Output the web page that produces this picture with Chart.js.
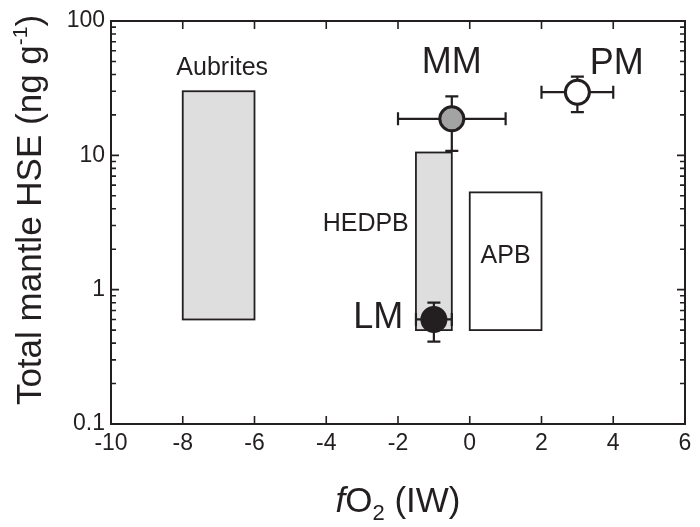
<!DOCTYPE html>
<html><head><meta charset="utf-8">
<script src="https://cdn.jsdelivr.net/npm/chart.js@4.4.0/dist/chart.umd.min.js"></script>
<style>html,body{margin:0;padding:0;background:#fff}#wrap{width:700px;height:527px;position:relative}</style>
</head><body><div id="wrap"><canvas id="c" width="700" height="527"></canvas></div>
<script>
// ---- data ----
const xTicks = [-10, -8, -6, -4, -2, 0, 2, 4, 6];
const yTicks = [0.1, 1, 10, 100];
const yMinorTicks = [0.2,0.3,0.4,0.5,0.6,0.7,0.8,0.9,2,3,4,5,6,7,8,9,20,30,40,50,60,70,80,90];

const pointNames = ['MM', 'PM', 'LM'];
const pointX = [-0.5, 3, -1];
const pointY = [18.7, 29.5, 0.6];
const pointXLo = [-2, 2, -1.5];
const pointXHi = [1, 4, -0.5];
const pointYLo = [10.8, 21, 0.41];
const pointYHi = [27.5, 38.5, 0.8];
const pointFill = ['#a3a3a3', '#ffffff', '#231f20'];

const boxNames = ['Aubrites', 'HEDPB', 'APB'];
const boxXMin = [-8, -1.5, 0];
const boxXMax = [-6, -0.5, 2];
const boxYMin = [0.6, 0.5, 0.5];
const boxYMax = [30, 10.5, 5.3];
const boxFill = ['#dedede', '#dedede', '#ffffff'];

const labelText = ['Aubrites', 'HEDPB', 'APB', 'MM', 'PM', 'LM'];
const labelX = [-6.9, -2.9, 1.0, -0.5, 4.1, -2.55];
const labelY = [44.8, 3.08, 1.78, 48.8, 47.5, 0.61];
const labelSize = [25, 25, 25, 36, 36, 36];

const FONT = '"Liberation Sans", Arial, Helvetica, sans-serif';
const INK = '#231f20';

const decorPlugin = {
  id: 'decor',
  beforeDatasetsDraw(chart) {
    const {ctx, scales: {x, y}} = chart;
    ctx.save();
    for (let i = 0; i < boxNames.length; i++) {
      const x0 = x.getPixelForValue(boxXMin[i]), x1 = x.getPixelForValue(boxXMax[i]);
      const y0 = y.getPixelForValue(boxYMax[i]), y1 = y.getPixelForValue(boxYMin[i]);
      ctx.fillStyle = boxFill[i];
      ctx.fillRect(x0, y0, x1 - x0, y1 - y0);
      ctx.strokeStyle = INK; ctx.lineWidth = 1.8;
      ctx.strokeRect(x0, y0, x1 - x0, y1 - y0);
    }
    ctx.strokeStyle = INK; ctx.lineWidth = 2.2;
    const cap = 6.5;
    for (let i = 0; i < pointNames.length; i++) {
      const px = x.getPixelForValue(pointX[i]), py = y.getPixelForValue(pointY[i]);
      const xl = x.getPixelForValue(pointXLo[i]), xh = x.getPixelForValue(pointXHi[i]);
      const yl = y.getPixelForValue(pointYLo[i]), yh = y.getPixelForValue(pointYHi[i]);
      ctx.beginPath();
      ctx.moveTo(xl, py); ctx.lineTo(xh, py);
      ctx.moveTo(xl, py - cap); ctx.lineTo(xl, py + cap);
      ctx.moveTo(xh, py - cap); ctx.lineTo(xh, py + cap);
      ctx.moveTo(px, yl); ctx.lineTo(px, yh);
      ctx.moveTo(px - cap, yl); ctx.lineTo(px + cap, yl);
      ctx.moveTo(px - cap, yh); ctx.lineTo(px + cap, yh);
      ctx.stroke();
    }
    ctx.restore();
  },
  afterDatasetsDraw(chart) {
    const {ctx, chartArea: a, scales: {x, y}} = chart;
    ctx.save();
    ctx.strokeStyle = INK; ctx.lineWidth = 2;
    ctx.strokeRect(a.left, a.top, a.right - a.left, a.bottom - a.top);
    ctx.lineWidth = 1.6;
    ctx.beginPath();
    xTicks.forEach(v => {
      const px = x.getPixelForValue(v);
      ctx.moveTo(px, a.bottom); ctx.lineTo(px, a.bottom - 8);
      ctx.moveTo(px, a.top); ctx.lineTo(px, a.top + 8);
    });
    yTicks.forEach(v => {
      const py = y.getPixelForValue(v);
      ctx.moveTo(a.left, py); ctx.lineTo(a.left + 8, py);
      ctx.moveTo(a.right, py); ctx.lineTo(a.right - 8, py);
    });
    yMinorTicks.forEach(v => {
      const py = y.getPixelForValue(v);
      ctx.moveTo(a.left, py); ctx.lineTo(a.left + 5, py);
      ctx.moveTo(a.right, py); ctx.lineTo(a.right - 5, py);
    });
    ctx.stroke();
    ctx.fillStyle = INK; ctx.textAlign = 'center'; ctx.textBaseline = 'middle';
    for (let i = 0; i < labelText.length; i++) {
      ctx.font = labelSize[i] + 'px ' + FONT;
      ctx.fillText(labelText[i], x.getPixelForValue(labelX[i]), y.getPixelForValue(labelY[i]));
    }
    const tSize = 35;
    const parts = [
      {t: 'f', f: 'italic ' + tSize + 'px ' + FONT, dy: 0},
      {t: 'O', f: tSize + 'px ' + FONT, dy: 0},
      {t: '2', f: Math.round(tSize * 0.62) + 'px ' + FONT, dy: 8},
      {t: ' (IW)', f: tSize + 'px ' + FONT, dy: 0}
    ];
    ctx.textAlign = 'left'; ctx.textBaseline = 'alphabetic';
    let w = 0;
    parts.forEach(p => { ctx.font = p.f; w += ctx.measureText(p.t).width; });
    let cx = (a.left + a.right) / 2 - w / 2;
    const base = 512;
    parts.forEach(p => { ctx.font = p.f; ctx.fillText(p.t, cx, base + p.dy); cx += ctx.measureText(p.t).width; });
    const yparts = [
      {t: 'Total mantle HSE (ng g', f: tSize + 'px ' + FONT, dy: 0},
      {t: '-1', f: Math.round(tSize * 0.6) + 'px ' + FONT, dy: -14},
      {t: ')', f: tSize + 'px ' + FONT, dy: 0}
    ];
    ctx.save();
    ctx.translate(41, 210);
    ctx.rotate(-Math.PI / 2);
    w = 0;
    yparts.forEach(p => { ctx.font = p.f; w += ctx.measureText(p.t).width; });
    cx = -w / 2;
    yparts.forEach(p => { ctx.font = p.f; ctx.fillText(p.t, cx, p.dy); cx += ctx.measureText(p.t).width; });
    ctx.restore();
    ctx.restore();
  }
};

new Chart(document.getElementById('c'), {
  type: 'scatter',
  data: {
    datasets: [{
      label: 'points',
      data: pointX.map((v, i) => ({x: v, y: pointY[i]})),
      pointRadius: 12,
      pointHoverRadius: 12,
      pointBackgroundColor: pointFill,
      pointBorderColor: INK,
      pointBorderWidth: 3,
      showLine: false
    }]
  },
  plugins: [decorPlugin],
  options: {
    responsive: false,
    animation: false,
    events: [],
    layout: {padding: {top: 21, right: 11, left: 0, bottom: 0}},
    plugins: {legend: {display: false}, tooltip: {enabled: false}},
    scales: {
      x: {
        type: 'linear', min: -10, max: 6,
        afterBuildTicks: s => { s.ticks = xTicks.map(v => ({value: v})); },
        afterFit: s => { s.height = 103; },
        grid: {display: false, drawTicks: false}, border: {display: false},
        ticks: {font: {family: FONT, size: 23}, color: INK, padding: 6, maxRotation: 0}
      },
      y: {
        type: 'logarithmic', min: 0.1, max: 100,
        afterBuildTicks: s => { s.ticks = yTicks.map(v => ({value: v, major: true})); },
        afterFit: s => { s.width = 111; },
        grid: {display: false, drawTicks: false}, border: {display: false},
        ticks: {font: {family: FONT, size: 23}, color: INK, padding: 6, callback: v => String(v)}
      }
    }
  }
});
</script></body></html>
